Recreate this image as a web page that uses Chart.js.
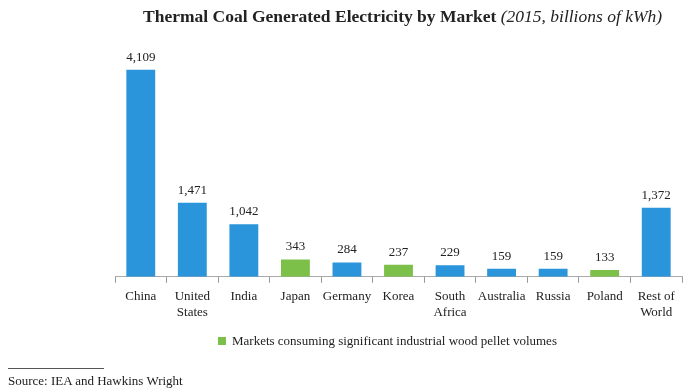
<!DOCTYPE html>
<html>
<head>
<meta charset="utf-8">
<script src="https://cdn.jsdelivr.net/npm/chart.js@4"></script>
<style>
  html, body { margin: 0; padding: 0; background: #fff; }
  #wrap { position: relative; width: 698px; height: 392px; font-family: "Liberation Serif", "DejaVu Serif", serif; color: #222; }
  #title { position: absolute; left: 143px; top: 6px; white-space: nowrap; font-size: 17.5px; }
  #title b { font-weight: bold; }
  #title i { font-weight: normal; }
  #legend { position: absolute; left: 218px; top: 333px; font-size: 13px; }
  #legend span.box { display: inline-block; width: 8px; height: 8px; background: #7cc04a; margin-right: 6px; vertical-align: 0px; }
  #rule { position: absolute; left: 8px; top: 368px; width: 96px; border-top: 1px solid #555; }
  #source { position: absolute; left: 8px; top: 373px; font-size: 13px; }
  canvas { position: absolute; left: 0; top: 0; }
</style>
</head>
<body>
<div id="wrap">
  <canvas id="chart" width="698" height="392"></canvas>
  <div id="title"><b>Thermal Coal Generated Electricity by Market</b> <i>(2015, billions of kWh)</i></div>
  <div id="legend"><span class="box"></span>Markets consuming significant industrial wood pellet volumes</div>
  <div id="rule"></div>
  <div id="source">Source: IEA and Hawkins Wright</div>
</div>
<script>
// 2015 年各市场燃煤发电量（十亿千瓦时）
const markets = [["China"], ["United", "States"], ["India"], ["Japan"], ["Germany"], ["Korea"],
  ["South", "Africa"], ["Australia"], ["Russia"], ["Poland"], ["Rest of", "World"]]
const generation = [4109, 1471, 1042, 343, 284, 237, 229, 159, 159, 133, 1372]
// 是否为木质颗粒主要消费市场
const pelletMarket = [false, false, false, true, false, true, false, false, false, true, false]

const blue = '#2a95da'
const green = '#7cc04a'

// 柱顶数值标签
const valueLabels = {
  id: 'valueLabels',
  afterDatasetsDraw(chart) {
    const { ctx } = chart
    const meta = chart.getDatasetMeta(0)
    ctx.save()
    ctx.font = '13px "Liberation Serif", serif'
    ctx.fillStyle = '#222'
    ctx.textAlign = 'center'
    ctx.textBaseline = 'bottom'
    meta.data.forEach((bar, i) => {
      ctx.fillText(generation[i].toLocaleString('en-US'), bar.x, bar.y - 6)
    })
    ctx.restore()
  }
}

new Chart(document.getElementById('chart').getContext('2d'), {
  type: 'bar',
  data: {
    labels: markets,
    datasets: [{
      data: generation,
      backgroundColor: pelletMarket.map(p => p ? green : blue),
      borderWidth: 0,
      barPercentage: 1,
      categoryPercentage: 0.56
    }]
  },
  options: {
    responsive: false,
    animation: false,
    layout: { padding: { top: 40, left: 115, right: 16, bottom: 66 } },
    plugins: {
      legend: { display: false },
      tooltip: { enabled: false }
    },
    scales: {
      x: {
        offset: true,
        grid: { display: true, drawOnChartArea: false, offset: true, color: '#999', tickLength: 6 },
        border: { color: '#aaa', width: 1 },
        ticks: { color: '#222', font: { family: '"Liberation Serif", serif', size: 13 }, padding: 6, maxRotation: 0, autoSkip: false }
      },
      y: {
        display: false,
        min: 0,
        max: 4700
      }
    }
  },
  plugins: [valueLabels]
})
</script>
</body>
</html>
